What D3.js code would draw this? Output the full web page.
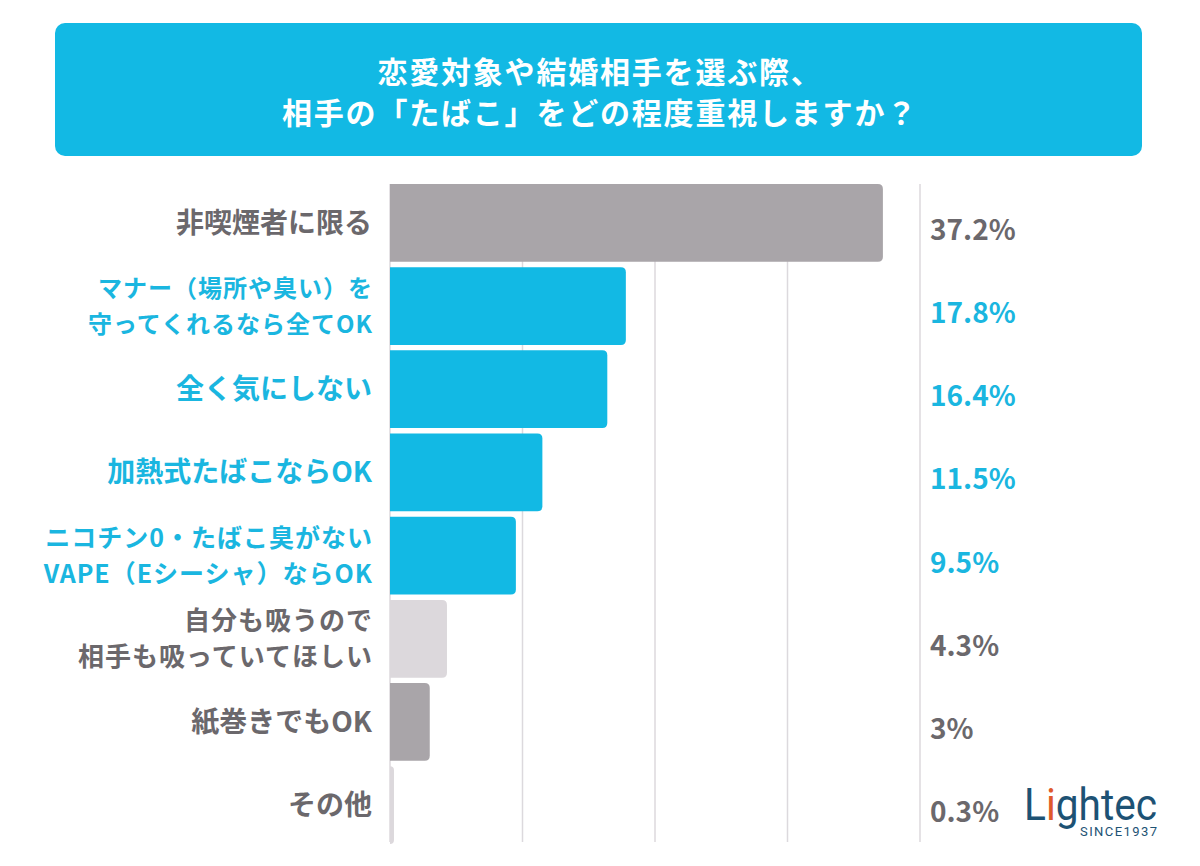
<!DOCTYPE html>
<html lang="ja">
<head>
<meta charset="utf-8">
<script src="https://cdn.jsdelivr.net/npm/d3@7"></script>
<style>
  html, body { margin: 0; padding: 0; background: #ffffff; }
  svg { display: block; font-family: "Noto Sans CJK JP", "Noto Sans", sans-serif; }
</style>
</head>
<body>
<div id="chart"></div>
<script>
// ---- data ----
const titleLines = ["恋愛対象や結婚相手を選ぶ際、", "相手の「たばこ」をどの程度重視しますか？"];
const categories = [
  "非喫煙者に限る",
  "マナー（場所や臭い）を\n守ってくれるなら全てOK",
  "全く気にしない",
  "加熱式たばこならOK",
  "ニコチン0・たばこ臭がない\nVAPE（Eシーシャ）ならOK",
  "自分も吸うので\n相手も吸っていてほしい",
  "紙巻きでもOK",
  "その他"
];
const values = [37.2, 17.8, 16.4, 11.5, 9.5, 4.3, 3, 0.3];
const valueLabels = ["37.2%", "17.8%", "16.4%", "11.5%", "9.5%", "4.3%", "3%", "0.3%"];
const gridTicks = [0, 10, 20, 30, 40];

// ---- styles ----
const barColors = ["#a9a5a9", "#12b9e4", "#12b9e4", "#12b9e4", "#12b9e4", "#dcd8dc", "#a9a5a9", "#dcd8dc"];
const textColors = ["#6b686c", "#1ab6e0", "#1ab6e0", "#1ab6e0", "#1ab6e0", "#6b686c", "#6b686c", "#6b686c"];
const labelSizes = [28, 24, 28, 28, 25, 26, 28, 28];

function whenDocumentLoaded(action) {
  if (document.readyState === "loading") {
    document.addEventListener("DOMContentLoaded", action);
  } else {
    action();
  }
}

function barPath(x0, x1, y0, h, r) {
  const w = x1 - x0;
  r = Math.min(r, w, h / 2);
  return "M" + x0 + "," + y0 +
    "H" + (x1 - r) +
    "Q" + x1 + "," + y0 + " " + x1 + "," + (y0 + r) +
    "V" + (y0 + h - r) +
    "Q" + x1 + "," + (y0 + h) + " " + (x1 - r) + "," + (y0 + h) +
    "H" + x0 + "Z";
}

whenDocumentLoaded(() => {
  const width = 1200, height = 866;

  const svg = d3.select("#chart")
    .append("svg")
      .attr("width", width)
      .attr("height", height);

  // title box
  svg.append("rect")
    .attr("x", 55).attr("y", 23)
    .attr("width", 1087).attr("height", 133)
    .attr("rx", 10)
    .attr("fill", "#12b9e4");

  svg.append("g")
    .selectAll("text")
    .data(titleLines)
    .join("text")
      .attr("x", 600)
      .attr("y", (d, i) => 70 + i * 41)
      .attr("text-anchor", "middle")
      .attr("dominant-baseline", "central")
      .attr("fill", "#ffffff")
      .attr("font-size", 30)
      .attr("font-weight", 700)
      .attr("letter-spacing", 1.8)
      .text(d => d);

  // scales
  const x = d3.scaleLinear().domain([0, 40]).range([390, 920]);
  const y = d3.scaleBand()
    .domain(d3.range(categories.length))
    .range([184, 844])
    .paddingInner(0.065)
    .paddingOuter(0);

  // grid lines
  svg.append("g")
    .selectAll("line")
    .data(gridTicks)
    .join("line")
      .attr("x1", d => x(d)).attr("x2", d => x(d))
      .attr("y1", 184).attr("y2", 842)
      .attr("stroke", "#dcd9dd")
      .attr("stroke-width", 1.5);

  // bars
  svg.append("g")
    .selectAll("path")
    .data(values)
    .join("path")
      .attr("d", (d, i) => barPath(x(0), x(d), y(i), y.bandwidth(), 5))
      .attr("fill", (d, i) => barColors[i]);

  // category labels
  const lineGap = 36;
  svg.append("g")
    .selectAll("text")
    .data(categories)
    .join("text")
      .attr("text-anchor", "end")
      .attr("font-weight", 700)
      .attr("font-size", (d, i) => labelSizes[i])
      .attr("letter-spacing", d => d.includes("\n") ? 1 : 0)
      .attr("fill", (d, i) => textColors[i])
      .each(function(d, i) {
        const lines = d.split("\n");
        const cy = y(i) + y.bandwidth() / 2 - 2;
        const lx = lines.length > 1 ? 373 : 372;
        d3.select(this).selectAll("tspan")
          .data(lines)
          .join("tspan")
            .attr("x", lx)
            .attr("y", (l, j) => cy + (j - (lines.length - 1) / 2) * lineGap)
            .attr("dominant-baseline", "central")
            .text(l => l);
      });

  // value labels
  svg.append("g")
    .selectAll("text")
    .data(valueLabels)
    .join("text")
      .attr("x", 930)
      .attr("y", (d, i) => y(i) + y.bandwidth() / 2 + 5)
      .attr("dominant-baseline", "central")
      .attr("font-size", 28)
      .attr("font-weight", 700)
      .attr("fill", (d, i) => textColors[i])
      .text(d => d);

  // logo
  const logo = svg.append("g").attr("transform", "translate(1024,820)");
  const word = logo.append("text")
    .attr("font-family", "Roboto, sans-serif")
    .attr("font-size", 44)
    .attr("textLength", 133)
    .attr("lengthAdjust", "spacingAndGlyphs")
    .attr("fill", "#1d5274");
  word.append("tspan").text("L");
  word.append("tspan").attr("fill", "#e0592a").text("i");
  word.append("tspan").text("ghtec");
  logo.append("text")
    .attr("x", 56).attr("y", 16)
    .attr("font-family", "Roboto, sans-serif")
    .attr("font-size", 13)
    .attr("textLength", 77)
    .attr("fill", "#1d5274")
    .text("SINCE1937");
});
</script>
</body>
</html>
